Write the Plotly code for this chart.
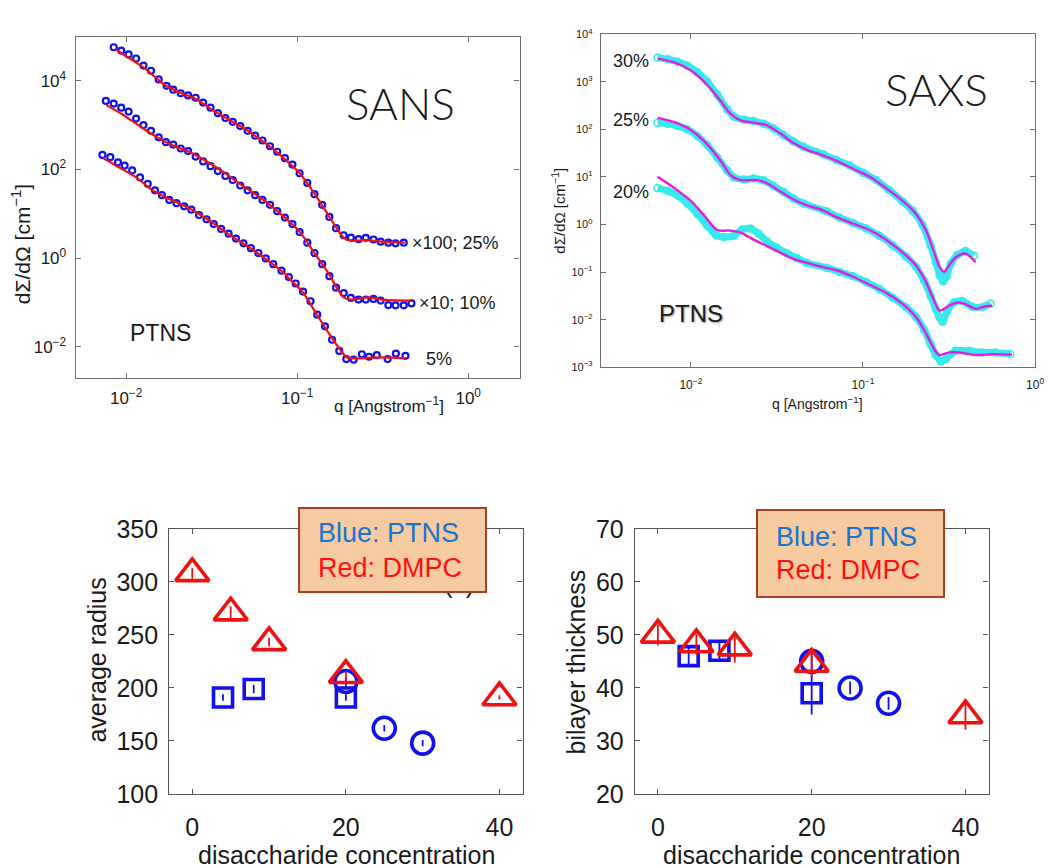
import numpy as np
import plotly.graph_objects as go

# ---------------- SANS (PTNS), decade exponents log10(q), log10(I) ----------------
sans25_logq = [-2.073, -2.029, -1.986, -1.942, -1.899, -1.855, -1.810, -1.764, -1.725, -1.681,
               -1.638, -1.594, -1.550, -1.507, -1.464, -1.420, -1.377, -1.333, -1.290, -1.246,
               -1.203, -1.159, -1.117, -1.072, -1.028, -0.986, -0.941, -0.899, -0.854, -0.812,
               -0.773, -0.728, -0.686, -0.641, -0.599, -0.554, -0.512, -0.467, -0.425, -0.377]
sans25_logI = [4.754, 4.680, 4.593, 4.500, 4.341, 4.224, 4.028, 3.885, 3.798, 3.717,
               3.667, 3.615, 3.507, 3.391, 3.267, 3.159, 3.072, 2.978, 2.870, 2.761,
               2.652, 2.522, 2.398, 2.254, 2.109, 1.913, 1.696, 1.441, 1.202, 0.928,
               0.674, 0.515, 0.463, 0.428, 0.457, 0.420, 0.370, 0.348, 0.333, 0.348]
sans25_fit_logq = [-2.067, -1.980, -1.893, -1.826, -1.768, -1.690, -1.594, -1.497, -1.401, -1.304,
                   -1.208, -1.111, -1.086, -0.989, -0.893, -0.815, -0.767, -0.728, -0.690, -0.603,
                   -0.506, -0.371]
sans25_fit_logI = [4.717, 4.500, 4.283, 4.065, 3.885, 3.739, 3.594, 3.341, 3.124, 2.907,
                   2.652, 2.363, 2.276, 1.928, 1.420, 0.950, 0.659, 0.457, 0.391, 0.407,
                   0.370, 0.348]

sans10_logq = [-2.119, -2.073, -2.029, -1.986, -1.942, -1.899, -1.855, -1.810, -1.768, -1.725,
               -1.681, -1.638, -1.594, -1.550, -1.507, -1.464, -1.420, -1.377, -1.333, -1.290,
               -1.246, -1.203, -1.159, -1.117, -1.072, -1.028, -0.986, -0.941, -0.899, -0.854,
               -0.812, -0.773, -0.728, -0.686, -0.641, -0.599, -0.554, -0.512, -0.467, -0.425,
               -0.377, -0.332]
sans10_logI = [3.543, 3.485, 3.391, 3.304, 3.145, 3.000, 2.870, 2.724, 2.615, 2.559,
               2.471, 2.413, 2.289, 2.180, 2.072, 1.963, 1.854, 1.761, 1.637, 1.528,
               1.420, 1.311, 1.202, 1.059, 0.913, 0.767, 0.587, 0.348, 0.115, -0.137,
               -0.407, -0.667, -0.789, -0.898, -0.935, -0.935, -0.920, -0.957, -1.059, -1.065,
               -1.065, -1.022]
sans10_fit_logq = [-2.116, -2.019, -1.922, -1.826, -1.729, -1.632, -1.536, -1.439, -1.343, -1.246,
                   -1.150, -1.072, -0.989, -0.893, -0.815, -0.767, -0.728, -0.680, -0.583, -0.506,
                   -0.332]
sans10_fit_logI = [3.449, 3.232, 2.978, 2.739, 2.543, 2.398, 2.196, 1.963, 1.696, 1.441,
                   1.167, 0.913, 0.609, 0.080, -0.354, -0.681, -0.884, -0.935, -0.884, -0.935,
                   -0.957]

sans5_logq = [-2.139, -2.093, -2.048, -2.009, -1.965, -1.919, -1.874, -1.832, -1.791, -1.748,
              -1.706, -1.661, -1.619, -1.574, -1.530, -1.488, -1.445, -1.401, -1.358, -1.314,
              -1.271, -1.227, -1.184, -1.140, -1.092, -1.049, -1.009, -0.966, -0.922, -0.883,
              -0.838, -0.796, -0.754, -0.713, -0.670, -0.622, -0.580, -0.535, -0.471, -0.423,
              -0.367]
sans5_logI = [2.326, 2.276, 2.159, 2.087, 1.978, 1.820, 1.674, 1.528, 1.420, 1.311,
              1.239, 1.167, 1.093, 0.972, 0.876, 0.767, 0.659, 0.550, 0.441, 0.333,
              0.224, 0.115, -0.007, -0.137, -0.283, -0.428, -0.572, -0.754, -0.972, -1.276,
              -1.537, -1.841, -2.093, -2.276, -2.289, -2.167, -2.224, -2.189, -2.276, -2.152,
              -2.202]
sans5_fit_logq = [-2.135, -2.038, -1.942, -1.845, -1.748, -1.652, -1.555, -1.459, -1.362, -1.265,
                  -1.169, -1.072, -1.047, -0.970, -0.893, -0.815, -0.757, -0.709, -0.661, -0.506,
                  -0.361]
sans5_fit_logI = [2.254, 2.037, 1.820, 1.528, 1.333, 1.167, 0.950, 0.696, 0.441, 0.202,
                  -0.065, -0.354, -0.463, -0.754, -1.224, -1.696, -2.022, -2.239, -2.261, -2.239,
                  -2.261]

# ---------------- SAXS (PTNS), decade exponents ----------------
saxs30_logq = [-2.193, -2.135, -2.077, -2.020, -1.962, -1.904, -1.847, -1.789, -1.750, -1.692,
               -1.635, -1.577, -1.519, -1.462, -1.404, -1.346, -1.231, -1.154, -1.077, -1.000,
               -0.923, -0.846, -0.769, -0.712, -0.654, -0.606, -0.577, -0.554, -0.534, -0.515,
               -0.490, -0.452, -0.404, -0.356]
saxs30_logI = [3.510, 3.476, 3.423, 3.341, 3.205, 3.002, 2.732, 2.427, 2.270, 2.203,
               2.175, 2.122, 2.020, 1.884, 1.748, 1.634, 1.478, 1.356, 1.240, 1.091,
               0.935, 0.720, 0.482, 0.293, -0.012, -0.453, -0.793, -1.063, -1.199, -1.098,
               -0.825, -0.642, -0.555, -0.657]
saxs30_fit_logq = [-2.193, -2.096, -2.000, -1.904, -1.827, -1.769, -1.711, -1.616, -1.558, -1.481,
                   -1.404, -1.308, -1.250, -1.154, -1.058, -0.961, -0.866, -0.769, -0.692, -0.635,
                   -0.586, -0.554, -0.529, -0.500, -0.462, -0.404, -0.346]
saxs30_fit_logI = [3.490, 3.409, 3.240, 2.935, 2.596, 2.325, 2.189, 2.134, 2.087, 1.919,
                   1.715, 1.545, 1.478, 1.341, 1.173, 1.004, 0.766, 0.496, 0.224, -0.114,
                   -0.589, -0.894, -0.996, -0.860, -0.691, -0.610, -0.793]

saxs25_logq = [-2.193, -2.135, -2.077, -2.020, -1.962, -1.904, -1.847, -1.789, -1.750, -1.692,
               -1.635, -1.577, -1.519, -1.462, -1.404, -1.346, -1.212, -1.135, -1.058, -0.981,
               -0.904, -0.827, -0.750, -0.692, -0.644, -0.606, -0.577, -0.557, -0.538, -0.510,
               -0.471, -0.423, -0.365, -0.308, -0.260]
saxs25_logI = [2.142, 2.122, 2.073, 2.000, 1.864, 1.667, 1.411, 1.138, 0.990, 0.949,
               0.970, 0.929, 0.813, 0.685, 0.549, 0.441, 0.278, 0.142, 0.035, -0.081,
               -0.236, -0.433, -0.671, -0.894, -1.185, -1.504, -1.774, -1.943, -2.045, -1.809,
               -1.638, -1.606, -1.728, -1.740, -1.659]
saxs25_fit_logq = [-2.193, -2.096, -2.000, -1.904, -1.827, -1.769, -1.711, -1.616, -1.558, -1.481,
                   -1.404, -1.308, -1.250, -1.154, -1.058, -0.961, -0.866, -0.769, -0.692, -0.635,
                   -0.586, -0.557, -0.538, -0.500, -0.452, -0.404, -0.346, -0.298, -0.250]
saxs25_fit_logI = [2.244, 2.154, 1.986, 1.681, 1.341, 1.037, 0.935, 0.935, 0.868, 0.699,
                   0.528, 0.380, 0.325, 0.157, 0.020, -0.114, -0.317, -0.589, -0.860, -1.199,
                   -1.606, -1.809, -1.795, -1.707, -1.638, -1.673, -1.774, -1.728, -1.707]

saxs20_logq = [-2.193, -2.135, -2.077, -2.020, -1.962, -1.904, -1.856, -1.808, -1.750, -1.702,
               -1.654, -1.606, -1.558, -1.500, -1.443, -1.385, -1.327, -1.212, -1.135, -1.058,
               -0.981, -0.904, -0.827, -0.750, -0.692, -0.644, -0.606, -0.577, -0.548, -0.519,
               -0.462, -0.385, -0.308, -0.231, -0.144]
saxs20_logI = [0.766, 0.711, 0.610, 0.441, 0.224, -0.026, -0.216, -0.264, -0.236, -0.102,
               -0.081, -0.195, -0.352, -0.488, -0.602, -0.703, -0.805, -0.907, -0.996, -1.089,
               -1.211, -1.354, -1.537, -1.740, -1.943, -2.215, -2.520, -2.744, -2.878, -2.825,
               -2.654, -2.654, -2.689, -2.689, -2.724]
saxs20_fit_logq = [-2.193, -2.096, -2.000, -1.923, -1.847, -1.769, -1.711, -1.635, -1.558, -1.481,
                   -1.404, -1.346, -1.250, -1.154, -1.058, -0.961, -0.866, -0.769, -0.692, -0.635,
                   -0.586, -0.557, -0.500, -0.442, -0.346, -0.250, -0.134]
saxs20_fit_logI = [1.004, 0.766, 0.496, 0.191, -0.114, -0.128, -0.169, -0.317, -0.453, -0.589,
                   -0.724, -0.783, -0.880, -0.961, -1.098, -1.266, -1.435, -1.673, -1.943, -2.283,
                   -2.622, -2.744, -2.689, -2.689, -2.744, -2.724, -2.736]

# ---------------- fitted parameters vs disaccharide concentration ----------------
dmpc_conc = [0, 5, 10, 20, 40]
dmpc_radius = [308, 271, 243, 212, 191]
dmpc_radius_err = [5, 6, 4, 4, 2]
dmpc_thick = [50.0, 48.2, 47.6, 44.5, 34.8]
dmpc_thick_err = [2.0, 2.0, 2.8, 2.5, 2.7]

ptns_sq_conc = [4, 8, 20]
ptns_sq_radius = [191, 199, 191]
ptns_sq_radius_err = [3, 4, 3]
ptns_sq_thick = [46.0, 47.0, 39.0]
ptns_sq_thick_err = [2.0, 2.0, 4.0]

ptns_ci_conc = [20, 25, 30]
ptns_ci_radius = [206, 162, 148]
ptns_ci_radius_err = [5, 3, 3]
ptns_ci_thick = [45.0, 40.0, 37.1]
ptns_ci_thick_err = [2.0, 1.2, 1.2]

W, H = 1056, 868
FONT = "Liberation Sans, Arial, Helvetica, sans-serif"
BLUE = "#1010F0"
RED = "#F01010"
CYAN = "#36EAEA"
MAGENTA = "#E619E6"


def fx(p):
    return p / W


def fy(p):
    return 1 - p / H


def pw(v):
    return [10 ** e for e in v]


fig = go.Figure()

# SANS: measured points then model curves
for lq, li, flq, fli in [
    (sans25_logq, sans25_logI, sans25_fit_logq, sans25_fit_logI),
    (sans10_logq, sans10_logI, sans10_fit_logq, sans10_fit_logI),
    (sans5_logq, sans5_logI, sans5_fit_logq, sans5_fit_logI),
]:
    fig.add_trace(go.Scatter(x=pw(lq), y=pw(li), mode="markers", xaxis="x", yaxis="y",
                             marker=dict(symbol="circle-open", size=6, color=BLUE,
                                         line=dict(width=2.2, color=BLUE))))
    fig.add_trace(go.Scatter(x=pw(flq), y=pw(fli), mode="lines", xaxis="x", yaxis="y",
                             line=dict(color=RED, width=2.2, shape="spline", smoothing=0.8)))

# SAXS: dense measured band then model curves
for lq, li, flq, fli in [
    (saxs30_logq, saxs30_logI, saxs30_fit_logq, saxs30_fit_logI),
    (saxs25_logq, saxs25_logI, saxs25_fit_logq, saxs25_fit_logI),
    (saxs20_logq, saxs20_logI, saxs20_fit_logq, saxs20_fit_logI),
]:
    fig.add_trace(go.Scatter(x=pw(lq), y=pw(li), mode="lines+markers", xaxis="x2", yaxis="y2",
                             line=dict(color=CYAN, width=7, shape="spline", smoothing=0.6),
                             marker=dict(symbol="circle-open", size=7, color=CYAN,
                                         line=dict(width=1.5, color=CYAN))))
for flq, fli in [(saxs30_fit_logq, saxs30_fit_logI), (saxs25_fit_logq, saxs25_fit_logI),
                 (saxs20_fit_logq, saxs20_fit_logI)]:
    fig.add_trace(go.Scatter(x=pw(flq), y=pw(fli), mode="lines", xaxis="x2", yaxis="y2",
                             line=dict(color=MAGENTA, width=2.4, shape="spline", smoothing=0.8)))


def pts(x, y, err, symbol, size, color, xa, ya):
    return go.Scatter(
        x=x, y=y, mode="markers", xaxis=xa, yaxis=ya,
        error_y=dict(type="data", array=err, color=color, thickness=1.8, width=0),
        marker=dict(symbol=symbol, size=size, color=color, line=dict(width=3.6, color=color)))


# average radius
fig.add_trace(pts(ptns_sq_conc, ptns_sq_radius, ptns_sq_radius_err, "square-open", 19, BLUE, "x3", "y3"))
fig.add_trace(pts(ptns_ci_conc, ptns_ci_radius, ptns_ci_radius_err, "circle-open", 22, BLUE, "x3", "y3"))
fig.add_trace(pts(dmpc_conc, dmpc_radius, dmpc_radius_err, "triangle-up-open", 29, RED, "x3", "y3"))
# bilayer thickness
fig.add_trace(pts(ptns_sq_conc, ptns_sq_thick, ptns_sq_thick_err, "square-open", 19, BLUE, "x4", "y4"))
fig.add_trace(pts(ptns_ci_conc, ptns_ci_thick, ptns_ci_thick_err, "circle-open", 22, BLUE, "x4", "y4"))
fig.add_trace(pts(dmpc_conc, dmpc_thick, dmpc_thick_err, "triangle-up-open", 29, RED, "x4", "y4"))


def pow_labels(exps):
    return ["10<sup>%s</sup>" % (str(e).replace("-", "\u2212")) for e in exps]


def frame(color, size, **kw):
    d = dict(showline=True, linecolor=color, linewidth=1.3, mirror="ticks", ticks="inside",
             ticklen=5, tickcolor=color, showgrid=False, zeroline=False,
             tickfont=dict(family=FONT, size=size, color="#1a1a1a"))
    d.update(kw)
    return d


sans_y_exp = [-2, 0, 2, 4]
saxs_y_exp = [-3, -2, -1, 0, 1, 2, 3, 4]
q_exp = [-2, -1, 0]

fig.update_layout(
    width=W, height=H, margin=dict(l=0, r=0, t=0, b=0),
    paper_bgcolor="white", plot_bgcolor="white", showlegend=False,
    xaxis=frame("#6e6e6e", 17, type="log", domain=[fx(76.4), fx(524)], range=[-2.295, 0.300],
                anchor="y", tickvals=[10.0 ** e for e in q_exp], ticktext=pow_labels(q_exp),
                ticklabelstandoff=5),
    yaxis=frame("#6e6e6e", 17, type="log", domain=[fy(376), fy(24)], range=[-2.70, 4.98],
                anchor="x", tickvals=[10.0 ** e for e in sans_y_exp], ticktext=pow_labels(sans_y_exp),
                ticklabelstandoff=5),
    xaxis2=frame("#6e6e6e", 12, type="log", domain=[fx(606), fx(1044)], range=[-2.523, 0],
                 anchor="y2", tickvals=[10.0 ** e for e in q_exp], ticktext=pow_labels(q_exp),
                 ticklabelstandoff=6),
    yaxis2=frame("#6e6e6e", 11, type="log", domain=[fy(365), fy(21)], range=[-3, 4],
                 anchor="x2", tickvals=[10.0 ** e for e in saxs_y_exp], ticktext=pow_labels(saxs_y_exp),
                 ticklabelstandoff=5),
    xaxis3=frame("#555555", 25, domain=[fx(170.7), fx(527)], range=[-3, 43], anchor="y3",
                 tickvals=[0, 20, 40], ticklabelstandoff=11),
    yaxis3=frame("#555555", 25, domain=[fy(806), fy(532)], range=[100, 350], anchor="x3",
                 tickvals=[100, 150, 200, 250, 300, 350], ticklabelstandoff=5),
    xaxis4=frame("#555555", 25, domain=[fx(640.3), fx(997)], range=[-3, 43], anchor="y4",
                 tickvals=[0, 20, 40], ticklabelstandoff=11),
    yaxis4=frame("#555555", 25, domain=[fy(806), fy(532)], range=[20, 70], anchor="x4",
                 tickvals=[20, 30, 40, 50, 60, 70], ticklabelstandoff=5),
)

ann = []


def text(x, y, s, size, color="#1a1a1a", angle=0, xanchor="center", family=FONT, **kw):
    ann.append(dict(x=fx(x), y=fy(y), xref="paper", yref="paper", text=s, showarrow=False,
                    textangle=angle, xanchor=xanchor, yanchor="middle",
                    font=dict(family=family, size=size, color=color, **kw)))


# SANS panel text
text(22, 238, "d\u03a3/d\u03a9 [cm<sup>\u22121</sup>]", 21, angle=-90)
text(392, 404, "q [Angstrom<sup>\u22121</sup>]", 17)
text(404, 92, "SANS", 44, family="Lato, Open Sans, sans-serif", weight=300)
text(129, 330, "PTNS", 23, xanchor="left")
text(414, 237, "\u00d7100; 25%", 18, xanchor="left")
text(421, 299, "\u00d710; 10%", 18, xanchor="left")
text(428, 356, "5%", 18, xanchor="left")

# SAXS panel text
text(563, 203, "d\u03a3/d\u03a9 [cm<sup>\u22121</sup>]", 15, angle=-90)
text(825, 402, "q [Angstrom<sup>\u22121</sup>]", 14)
text(945, 77, "SAXS", 44, family="Lato, Open Sans, sans-serif", weight=300)
text(636, 49, "30%", 18)
text(636, 110, "25%", 18)
text(636, 184, "20%", 18)
text(663, 309, "PTNS", 24, xanchor="left", shadow="1px 1px 2px #9a9a9a")

# parameter panels text
text(98, 668, "average radius", 25, angle=-90)
text(349, 869, "disaccharide concentration", 25)
text(581, 670, "bilayer thickness", 25, angle=-90)
text(818, 869, "disaccharide concentration", 25)
text(463, 589, "(c)", 26)
text(928, 583, "(d)", 26)

# colour key boxes drawn over the panel letters
for cx, cy, w, h in [(395.5, 554, 185, 82), (857.5, 557.5, 185, 85)]:
    ann.append(dict(x=fx(cx), y=fy(cy), xref="paper", yref="paper", text=" ", showarrow=False,
                    xanchor="center", yanchor="middle", width=w, height=h,
                    bgcolor="#F6CBA2", bordercolor="#A93F25", borderwidth=2, borderpad=0))
text(319, 536, "Blue: PTNS", 27, color="#1874CD", xanchor="left")
text(319, 572, "Red: DMPC", 27, color="#FF1010", xanchor="left")
text(781, 540, "Blue: PTNS", 27, color="#1874CD", xanchor="left")
text(781, 575, "Red: DMPC", 27, color="#FF1010", xanchor="left")

fig.update_layout(annotations=ann)
fig.write_html("out.html")
